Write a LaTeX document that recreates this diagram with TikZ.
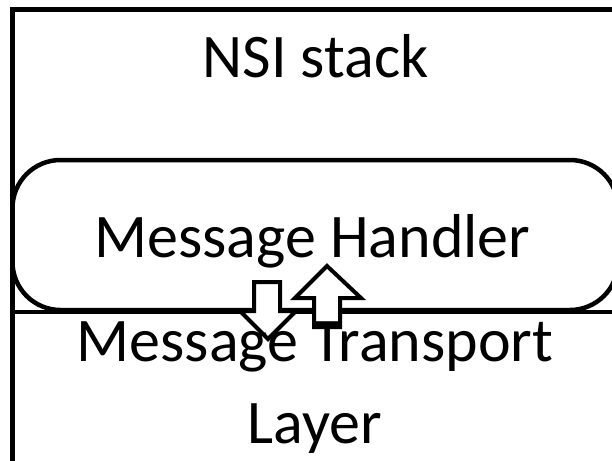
\documentclass[tikz,border=0pt]{standalone}
\usepackage{fontspec}
\setmainfont{Carlito}
\begin{document}
\begin{tikzpicture}[x=1pt,y=-1pt,
  frame/.style={line width=4.5pt, draw=black},
  blockarrow/.style={line width=4pt, draw=black, fill=white, line join=miter},
  label/.style={anchor=base, inner sep=0pt, font=\fontsize{62}{82}\selectfont, align=center}]
  \useasboundingbox (0,0) rectangle (612,460);
  \clip (0,0) rectangle (612,460);
  \fill[white] (0,0) rectangle (612,460);

  % outer stack frame (continues past the right and bottom edges)
  \draw[frame] (12.5,480) -- (12.5,9.5) -- (640,9.5);
  % boundary between the stack and the transport layer
  \draw[frame] (12.5,312) -- (640,312);
  % message handler box
  \draw[frame, rounded corners=48pt] (12.5,160) rectangle (618,310);

  % downward block arrow
  \draw[blockarrow] (254,282) -- (280,282) -- (280,311) -- (296,311)
     -- (268,339) -- (240,311) -- (254,311) -- cycle;
  % upward block arrow
  \draw[blockarrow] (314,327) -- (340,327) -- (340,298) -- (361,298)
     -- (327,266) -- (295,298) -- (314,298) -- cycle;

  \node[label] (nsi) at (315.5,77) {NSI stack};
  \node[label] (handler) at (312.5,257) {Message Handler};
  % the base anchor of a two-line node sits on its last line
  \node[label] (transport) at (315,443) {Message Transport\\Layer};
\end{tikzpicture}
\end{document}
